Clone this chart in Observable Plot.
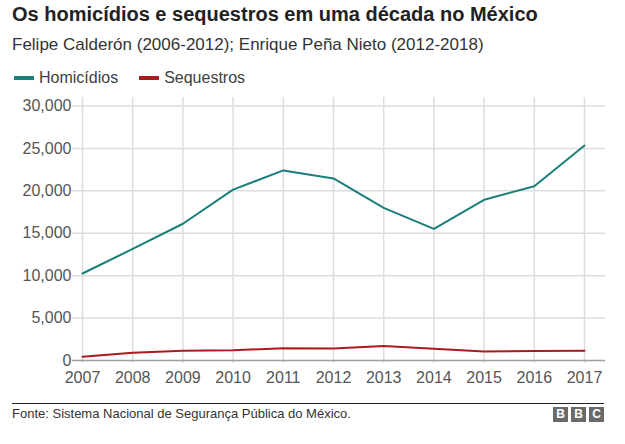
<!DOCTYPE html>
<html><head><meta charset="utf-8">
<script src="https://cdn.jsdelivr.net/npm/d3@7"></script>
<script src="https://cdn.jsdelivr.net/npm/@observablehq/plot@0.6"></script>
<style>
body{margin:0;background:#fff;font-family:"Liberation Sans",Arial,Helvetica,sans-serif;}
#wrap{position:relative;width:625px;height:444px;overflow:hidden;}
.abs{position:absolute;white-space:nowrap;}
#title{left:12px;top:2px;font-size:20px;font-weight:bold;line-height:24px;color:#222;}
#sub{left:12px;top:34px;font-size:17px;line-height:22px;color:#333;}
#legend{left:14px;top:68px;font-size:16px;line-height:20px;color:#404040;}
.sw{display:inline-block;width:20px;height:4px;vertical-align:middle;margin-right:5px;position:relative;top:-1px;}
.item{display:inline-block;margin-right:21px;}
#chart{left:0;top:95px;}
#rule{left:12px;top:403px;width:592px;height:1px;background:#222;}
#src{left:12px;top:406px;font-size:13px;line-height:16px;color:#333;}
.bbc{position:absolute;top:407px;width:15px;height:15px;background:#6a6a6a;color:#fff;font-weight:bold;font-size:12px;line-height:15px;text-align:center;}
</style></head>
<body><div id="wrap">
<div class="abs" id="title">Os homicídios e sequestros em uma década no México</div>
<div class="abs" id="sub">Felipe Calderón (2006-2012); Enrique Peña Nieto (2012-2018)</div>
<div class="abs" id="legend"></div>
<div class="abs" id="chart"></div>
<div class="abs" id="rule"></div>
<div class="abs" id="src">Fonte: Sistema Nacional de Segurança Pública do México.</div>
<div class="bbc" style="left:553px">B</div><div class="bbc" style="left:571px">B</div><div class="bbc" style="left:589px">C</div>
</div>
<script>
const years = [2007, 2008, 2009, 2010, 2011, 2012, 2013, 2014, 2015, 2016, 2017];
const homicidios = [10253, 13155, 16118, 20143, 22409, 21459, 18000, 15520, 18940, 20547, 25339];
const sequestros = [438, 907, 1163, 1222, 1432, 1418, 1698, 1395, 1067, 1131, 1149];
const series = ["Homicídios", "Sequestros"];
const colors = ["#1b7f79", "#ab1a1c"];
const yTicks = [0, 5000, 10000, 15000, 20000, 25000, 30000];

const data = [];
years.forEach((y, i) => {
  data.push({year: y, value: homicidios[i], serie: series[0]});
  data.push({year: y, value: sequestros[i], serie: series[1]});
});

const legend = document.getElementById("legend");
series.forEach((s, i) => {
  const it = document.createElement("span");
  it.className = "item";
  it.innerHTML = `<span class="sw" style="background:${colors[i]}"></span>${s}`;
  legend.appendChild(it);
});

const chart = Plot.plot({
  width: 625, height: 300,
  marginLeft: 72, marginRight: 20, marginTop: 2, marginBottom: 32,
  x: {domain: [2007, 2017], range: [82, 584]},
  y: {domain: [0, 30000], range: [265, 10.5]},
  color: {domain: series, range: colors},
  style: {fontFamily: '"Liberation Sans", Arial, sans-serif', fontSize: "16px", color: "#555", background: "transparent"},
  marks: [
    Plot.ruleX(years, {stroke: "#dddddd", strokeWidth: 1.5}),
    Plot.ruleY(yTicks.filter(d => d > 0), {stroke: "#dddddd", strokeWidth: 1.5}),
    Plot.ruleY([0], {stroke: "#a0a0a0", strokeWidth: 1.5}),
    Plot.axisY({ticks: yTicks, tickSize: 0, tickPadding: 1, tickFormat: d3.format(","), fontSize: 16, label: null}),
    Plot.axisX({ticks: years, tickSize: 0, tickPadding: 8, tickFormat: d => String(d), fontSize: 16, label: null}),
    Plot.line(data, {x: "year", y: "value", z: "serie", stroke: "serie", strokeWidth: 2})
  ]
});
document.getElementById("chart").appendChild(chart);
</script>
</body></html>
